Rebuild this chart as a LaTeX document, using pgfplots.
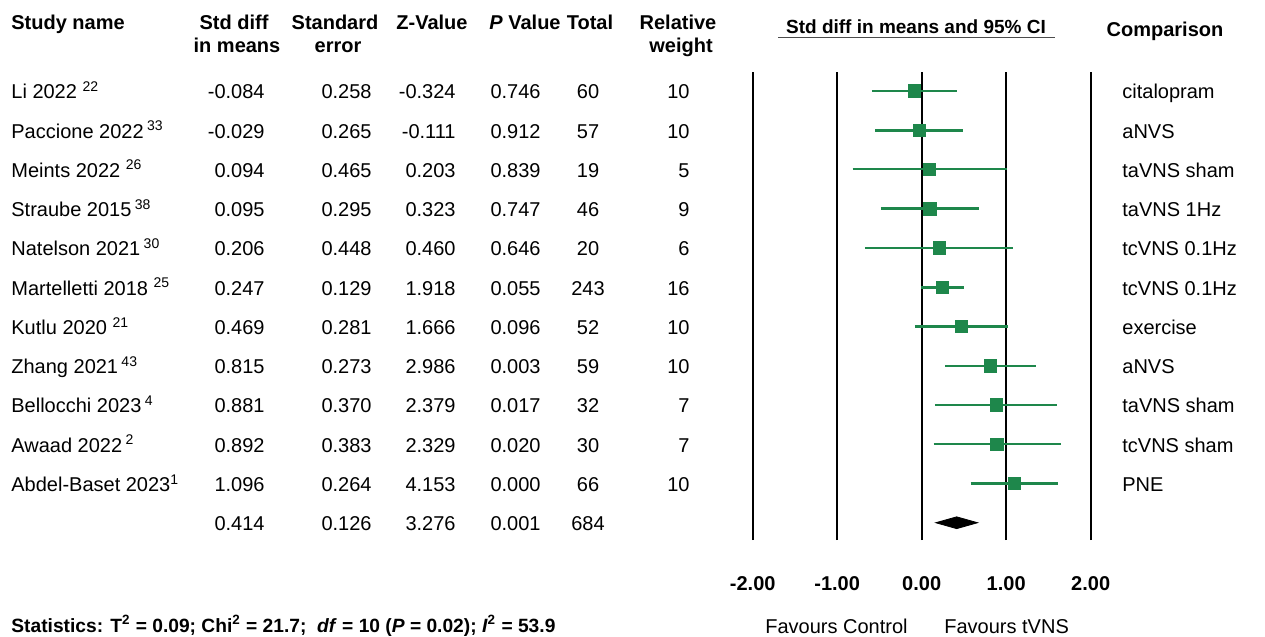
\documentclass[border=0pt]{standalone}
\usepackage{pgfplots}
\pgfplotsset{compat=1.18}
\usepackage{pgfplotstable}
\usepackage{fontspec}
\setmainfont{Liberation Sans}
\definecolor{fgreen}{RGB}{30,135,75}

% row position (12 = top study), estimate
\pgfplotstableread{
pos est
12 -0.084
11 -0.029
10 0.094
9  0.095
8  0.206
7  0.247
6  0.469
5  0.815
4  0.881
3  0.892
2  1.096
}\est

\newcommand{\tf}{\fontsize{10}{12}\selectfont}

\begin{document}
\begin{tikzpicture}
\begin{scope}[x=0.5pt,y=-0.5pt]
\useasboundingbox (0,0) rectangle (1265,637);
\coordinate (A) at (752.7,540);
% headers
\begin{scope}[every node/.style={inner sep=0pt, font=\tf\bfseries}]
\node[anchor=base west] at (11,29) {Study name};
\node[anchor=base] at (234,29) {Std diff};
\node[anchor=base] at (237,53) {in means};
\node[anchor=base] at (335,29) {Standard};
\node[anchor=base] at (338,53) {error};
\node[anchor=base] at (432,29) {Z-Value};
\node[anchor=base] at (525,29) {\textit{P} Value};
\node[anchor=base] at (590,29) {Total};
\node[anchor=base] at (678,29) {Relative};
\node[anchor=base] at (681,53) {weight};
\node[anchor=base] at (916,33) {\fontsize{9.5}{11}\selectfont Std diff in means and 95\% CI};
\node[anchor=base] at (1165,36) {Comparison};
\node[anchor=base west] at (11,632) {\fontsize{9.6}{11}\selectfont Statistics: T\textsuperscript{2} = 0.09; Chi\textsuperscript{2} = 21.7;\ \ \textit{df} = 10 (\textit{P} = 0.02); \textit{I}\textsuperscript{2} = 53.9};
\end{scope}
\draw[line width=0.8pt, gray!60!black] (778,37.5) -- (1055,37.5);
\begin{scope}[every node/.style={inner sep=0pt, font=\tf}]
\node[anchor=base west] at (765,633) {Favours Control};
\node[anchor=base west] at (944,633) {Favours tVNS};
% study names
\node[anchor=base west] at (11,98.7) {Li 2022 \textsuperscript{22}};
\node[anchor=base west] at (11,138.0) {Paccione 2022\,\textsuperscript{33}};
\node[anchor=base west] at (11,177.2) {Meints 2022 \textsuperscript{26}};
\node[anchor=base west] at (11,216.5) {Straube 2015\,\textsuperscript{38}};
\node[anchor=base west] at (11,255.8) {Natelson 2021\,\textsuperscript{30}};
\node[anchor=base west] at (11,295.1) {Martelletti 2018 \textsuperscript{25}};
\node[anchor=base west] at (11,334.3) {Kutlu 2020 \textsuperscript{21}};
\node[anchor=base west] at (11,373.6) {Zhang 2021\,\textsuperscript{43}};
\node[anchor=base west] at (11,412.9) {Bellocchi 2023\,\textsuperscript{4}};
\node[anchor=base west] at (11,452.1) {Awaad 2022\,\textsuperscript{2}};
\node[anchor=base west] at (11,491.4) {Abdel-Baset 2023\textsuperscript{1}};
% std diff
\foreach \v/\y in {-0.084/98.7,-0.029/138.0,0.094/177.2,0.095/216.5,0.206/255.8,0.247/295.1,0.469/334.3,0.815/373.6,0.881/412.9,0.892/452.1,1.096/491.4,0.414/530.7}
  \node[anchor=base east] at (265,\y) {\v};
% SE
\foreach \v/\y in {0.258/98.7,0.265/138.0,0.465/177.2,0.295/216.5,0.448/255.8,0.129/295.1,0.281/334.3,0.273/373.6,0.370/412.9,0.383/452.1,0.264/491.4,0.126/530.7}
  \node[anchor=base east] at (372,\y) {\v};
% Z
\foreach \v/\y in {-0.324/98.7,-0.111/138.0,0.203/177.2,0.323/216.5,0.460/255.8,1.918/295.1,1.666/334.3,2.986/373.6,2.379/412.9,2.329/452.1,4.153/491.4,3.276/530.7}
  \node[anchor=base east] at (456,\y) {\v};
% P
\foreach \v/\y in {0.746/98.7,0.912/138.0,0.839/177.2,0.747/216.5,0.646/255.8,0.055/295.1,0.096/334.3,0.003/373.6,0.017/412.9,0.020/452.1,0.000/491.4,0.001/530.7}
  \node[anchor=base east] at (541,\y) {\v};
% Total
\foreach \v/\y in {60/98.7,57/138.0,19/177.2,46/216.5,20/255.8,243/295.1,52/334.3,59/373.6,32/412.9,30/452.1,66/491.4,684/530.7}
  \node[anchor=base] at (588,\y) {\v};
% weight
\foreach \v/\y in {10/98.7,10/138.0,5/177.2,9/216.5,6/255.8,16/295.1,10/334.3,10/373.6,7/412.9,7/452.1,10/491.4}
  \node[anchor=base east] at (690,\y) {\v};
% comparison
\foreach \v/\y in {citalopram/98.7,aNVS/138.0,taVNS sham/177.2,taVNS 1Hz/216.5,tcVNS 0.1Hz/255.8,tcVNS 0.1Hz/295.1,exercise/334.3,aNVS/373.6,taVNS sham/412.9,tcVNS sham/452.1,PNE/491.4}
  \node[anchor=base west] at (1122,\y) {\v};
\end{scope}
\end{scope}

\begin{axis}[
  at={(A)}, anchor=south west,
  scale only axis, width=169pt, height=234pt,
  xmin=-2, xmax=2, ymin=0.56, ymax=12.484,
  clip=false,
  axis y line=none, axis x line*=bottom,
  x axis line style={draw=none},
  xtick={-2,-1,0,1,2},
  xticklabels={-2.00,-1.00,0.00,1.00,2.00},
  xticklabel style={font=\fontsize{10}{12}\selectfont\bfseries, anchor=center, yshift=-22pt},
  major tick length=0pt,
  xmajorgrids, grid style={black, line width=0.9pt},
  ytick=\empty,
]
% 95% CI lines (estimate +/- 1.96 SE)
\addplot[fgreen, line width=1.4pt] coordinates {(-0.590,12) (0.422,12)};
\addplot[fgreen, line width=1.4pt] coordinates {(-0.548,11) (0.490,11)};
\addplot[fgreen, line width=1.1pt] coordinates {(-0.817,10.01) (1.005,10.01)};
\addplot[fgreen, line width=1.4pt] coordinates {(-0.483,9) (0.673,9)};
\addplot[fgreen, line width=1.1pt] coordinates {(-0.672,8) (1.084,8)};
\addplot[fgreen, line width=1.5pt] coordinates {(-0.006,7) (0.500,7)};
\addplot[fgreen, line width=1.4pt] coordinates {(-0.082,6) (1.020,6)};
\addplot[fgreen, line width=1.2pt] coordinates {(0.280,5) (1.350,5)};
\addplot[fgreen, line width=1.1pt] coordinates {(0.156,4) (1.606,4)};
\addplot[fgreen, line width=1.2pt] coordinates {(0.141,3) (1.643,3)};
\addplot[fgreen, line width=1.4pt] coordinates {(0.579,2) (1.613,2)};
\addplot[only marks, mark=square*, mark size=3.1pt, color=fgreen, mark options={fill=fgreen}]
  table[x=est, y=pos]{\est};
\addplot[fill=black, draw=black] coordinates {(0.167,1) (0.414,1.15) (0.661,1) (0.414,0.85)} -- cycle;
\end{axis}
\end{tikzpicture}
\end{document}
